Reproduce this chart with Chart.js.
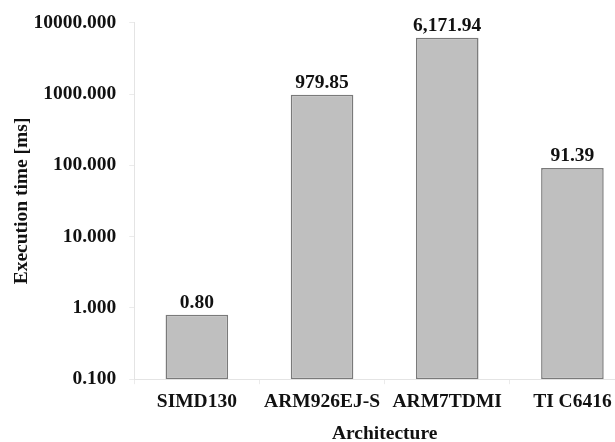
<!DOCTYPE html>
<html>
<head>
<meta charset="utf-8">
<script src="https://cdn.jsdelivr.net/npm/chart.js@4"></script>
<style>
  body { margin: 0; background: #fff; overflow: hidden; }
  #caja { width: 640px; height: 446px; }
</style>
</head>
<body>
<div id="caja"><canvas id="grafico"></canvas></div>
<script>
// Datos del gráfico
const arquitecturas = ["SIMD130", "ARM926EJ-S", "ARM7TDMI", "TI C6416"];
const tiempos = [0.80, 979.85, 6171.94, 91.39];
const marcasY = [0.1, 1, 10, 100, 1000, 10000];

const fuente = { family: "'Liberation Serif', 'Times New Roman', serif", weight: "bold", size: 19.5 };

// Escribe el valor encima de cada barra
const etiquetasBarras = {
  id: "etiquetasBarras",
  afterDatasetsDraw(chart) {
    const ctx = chart.ctx;
    const meta = chart.getDatasetMeta(0);
    ctx.save();
    ctx.font = `bold ${fuente.size}px ${fuente.family}`;
    ctx.fillStyle = "#111";
    ctx.textAlign = "center";
    ctx.textBaseline = "alphabetic";
    meta.data.forEach((barra, i) => {
      const texto = tiempos[i].toLocaleString("en-US", { minimumFractionDigits: 2, maximumFractionDigits: 2 });
      ctx.fillText(texto, barra.x, barra.y - 7);
    });
    ctx.restore();
  }
};

new Chart(document.getElementById("grafico"), {
  type: "bar",
  data: {
    labels: arquitecturas,
    datasets: [{
      data: tiempos,
      backgroundColor: "#bfbfbf",
      borderColor: "#7a7a7a",
      borderWidth: 1.5,
      borderSkipped: false,
      barPercentage: 0.5,
      categoryPercentage: 1.0
    }]
  },
  options: {
    responsive: true,
    maintainAspectRatio: false,
    animation: false,
    layout: { padding: { left: 10, right: 5, top: 19, bottom: 0 } },
    plugins: {
      legend: { display: false },
      tooltip: { enabled: false }
    },
    scales: {
      x: {
        border: { color: "#e4e4e4", width: 1 },
        grid: { drawOnChartArea: false, tickLength: 5, color: "#ebebeb" },
        ticks: { color: "#111", font: fuente, padding: 6 },
        title: { display: true, text: "Architecture", color: "#111", font: fuente, padding: { top: 3, bottom: 0 } }
      },
      y: {
        type: "logarithmic",
        min: 0.1,
        max: 10000,
        afterBuildTicks: (escala) => {
          escala.ticks = marcasY.map(v => ({ value: v }));
        },
        // el eje queda algo más pegado al título
        afterFit: (escala) => { escala.width -= 15; },
        border: { color: "#e4e4e4", width: 1 },
        grid: { drawOnChartArea: false, tickLength: 5, color: "#ebebeb" },
        ticks: {
          color: "#111",
          font: { ...fuente, lineHeight: 1 },
          padding: 13,
          callback: (valor) => Number(valor).toFixed(3)
        },
        title: { display: true, text: "Execution time [ms]", color: "#111", font: fuente, padding: { top: 0, bottom: 2 } }
      }
    }
  },
  plugins: [etiquetasBarras]
});
</script>
</body>
</html>
